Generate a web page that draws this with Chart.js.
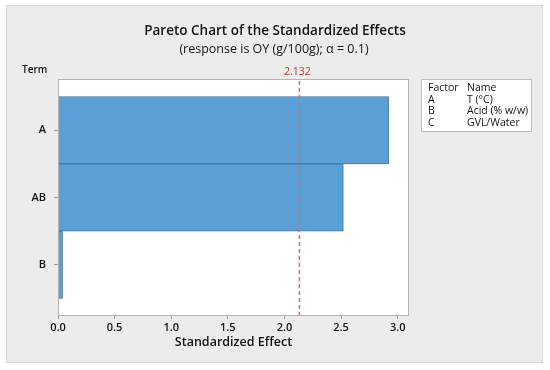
<!DOCTYPE html>
<html>
<head>
<meta charset="utf-8">
<script src="https://cdn.jsdelivr.net/npm/chart.js@4.4.1/dist/chart.umd.min.js"></script>
<style>
  html, body { margin:0; padding:0; background:#fff; }
  #wrap { width:550px; height:370px; }
</style>
</head>
<body>
<div id="wrap"><canvas id="pareto" width="550" height="370"></canvas></div>
<script>
const terms = ['A', 'AB', 'B'];
const effects = [2.92, 2.52, 0.04];
const xTicks = [0, 0.5, 1.0, 1.5, 2.0, 2.5, 3.0];
const critical = 2.132;
const factorCodes = ['A', 'B', 'C'];
const factorNames = ['T (°C)', 'Acid (% w/w)', 'GVL/Water'];

const FONT = "'Open Sans', 'Noto Sans', sans-serif";
const INK = '#141414';

const framePlugin = {
  id:'frame',
  beforeDraw(chart){
    const {ctx, chartArea:a} = chart;
    ctx.save();
    ctx.fillStyle = '#fff';
    ctx.fillRect(0, 0, chart.width, chart.height);
    // grey outer panel
    ctx.fillStyle = '#ececec';
    ctx.fillRect(6, 5, 537, 358);
    ctx.strokeStyle = '#dadada';
    ctx.lineWidth = 1;
    ctx.strokeRect(6.5, 5.5, 536, 357);
    // white plot box
    ctx.fillStyle = '#fff';
    ctx.fillRect(a.left, a.top, a.right - a.left, a.bottom - a.top);
    ctx.restore();
  },
  afterDatasetsDraw(chart){
    const {ctx, chartArea:a, scales} = chart;
    ctx.save();
    ctx.strokeStyle = '#b4b4b4';
    ctx.lineWidth = 1;
    ctx.strokeRect(a.left + 0.5, a.top + 0.5, a.right - a.left - 1, a.bottom - a.top - 1);

    // critical value reference line
    const x = scales.x.getPixelForValue(critical);
    ctx.strokeStyle = '#e06a6a';
    ctx.lineWidth = 1.5;
    ctx.setLineDash([4, 3]);
    ctx.beginPath();
    ctx.moveTo(x, a.top + 2);
    ctx.lineTo(x, a.bottom - 1);
    ctx.stroke();
    ctx.setLineDash([]);
    ctx.fillStyle = '#c03a36';
    ctx.font = `10.5px ${FONT}`;
    ctx.textAlign = 'center';
    ctx.textBaseline = 'middle';
    ctx.fillText(critical.toFixed(3), x - 2, a.top - 7);
    ctx.restore();
  },
  afterDraw(chart){
    const {ctx} = chart;
    ctx.save();
    ctx.fillStyle = INK;
    ctx.textAlign = 'center';
    ctx.textBaseline = 'middle';
    ctx.font = `600 13.5px ${FONT}`;
    ctx.fillText('Pareto Chart of the Standardized Effects', 275, 31);
    ctx.font = `12.5px ${FONT}`;
    ctx.fillText('(response is OY (g/100g); α = 0.1)', 274, 49);

    ctx.textAlign = 'left';
    ctx.font = `600 10px ${FONT}`;
    ctx.fillText('Term', 22, 70);

    // factor legend table
    ctx.fillStyle = '#fff';
    ctx.fillRect(421, 79, 110, 52);
    ctx.strokeStyle = '#bdbdbd';
    ctx.lineWidth = 1;
    ctx.strokeRect(421.5, 79.5, 110, 52);
    ctx.fillStyle = INK;
    ctx.font = `10.5px ${FONT}`;
    ctx.fillText('Factor', 428, 88.5);
    ctx.fillText('Name', 467, 88.5);
    factorCodes.forEach((c, i) => {
      const y = 100 + i * 11.3;
      ctx.fillText(c, 428, y);
      ctx.fillText(factorNames[i], 467, y);
    });
    ctx.restore();
  }
};

new Chart(document.getElementById('pareto'), {
  type:'bar',
  data:{
    datasets:[{
      data: effects.map((v, i) => ({x:v, y:i})),
      backgroundColor:'#5b9fd7',
      borderColor:'#4474a0',
      borderWidth:1,
      borderSkipped:false,
      barPercentage:1,
      categoryPercentage:1
    }]
  },
  options:{
    responsive:false,
    animation:false,
    indexAxis:'y',
    layout:{ padding:{ left:18, top:79, right:141, bottom:14 } },
    scales:{
      x:{
        type:'linear', min:0, max:3.1,
        afterBuildTicks: s => { s.ticks = xTicks.map(v => ({value:v})); },
        afterFit: s => { s.height = 40; },
        grid:{ drawOnChartArea:false, tickLength:3, color:'#9a9a9a' },
        border:{ display:false },
        ticks:{ color:INK, padding:2, font:{ family:FONT, size:11, weight:'600' }, callback: v => Number(v).toFixed(1) },
        title:{ display:true, text:'Standardized Effect', color:INK, padding:{top:0, bottom:6}, font:{ family:FONT, size:12.5, weight:'600' } }
      },
      y:{
        type:'linear', reverse:true, min:-0.76, max:2.76, offset:false,
        afterBuildTicks: s => { s.ticks = terms.map((t, i) => ({value:i})); },
        afterFit: s => { s.width = 40; },
        grid:{ drawOnChartArea:false, offset:false, tickLength:4, color:'#9a9a9a' },
        border:{ display:false },
        ticks:{ color:INK, padding:8, font:{ family:FONT, size:11, weight:'600' }, callback: v => terms[v] }
      }
    },
    plugins:{
      legend:{ display:false },
      tooltip:{ enabled:false }
    }
  },
  plugins:[framePlugin]
});
</script>
</body>
</html>
